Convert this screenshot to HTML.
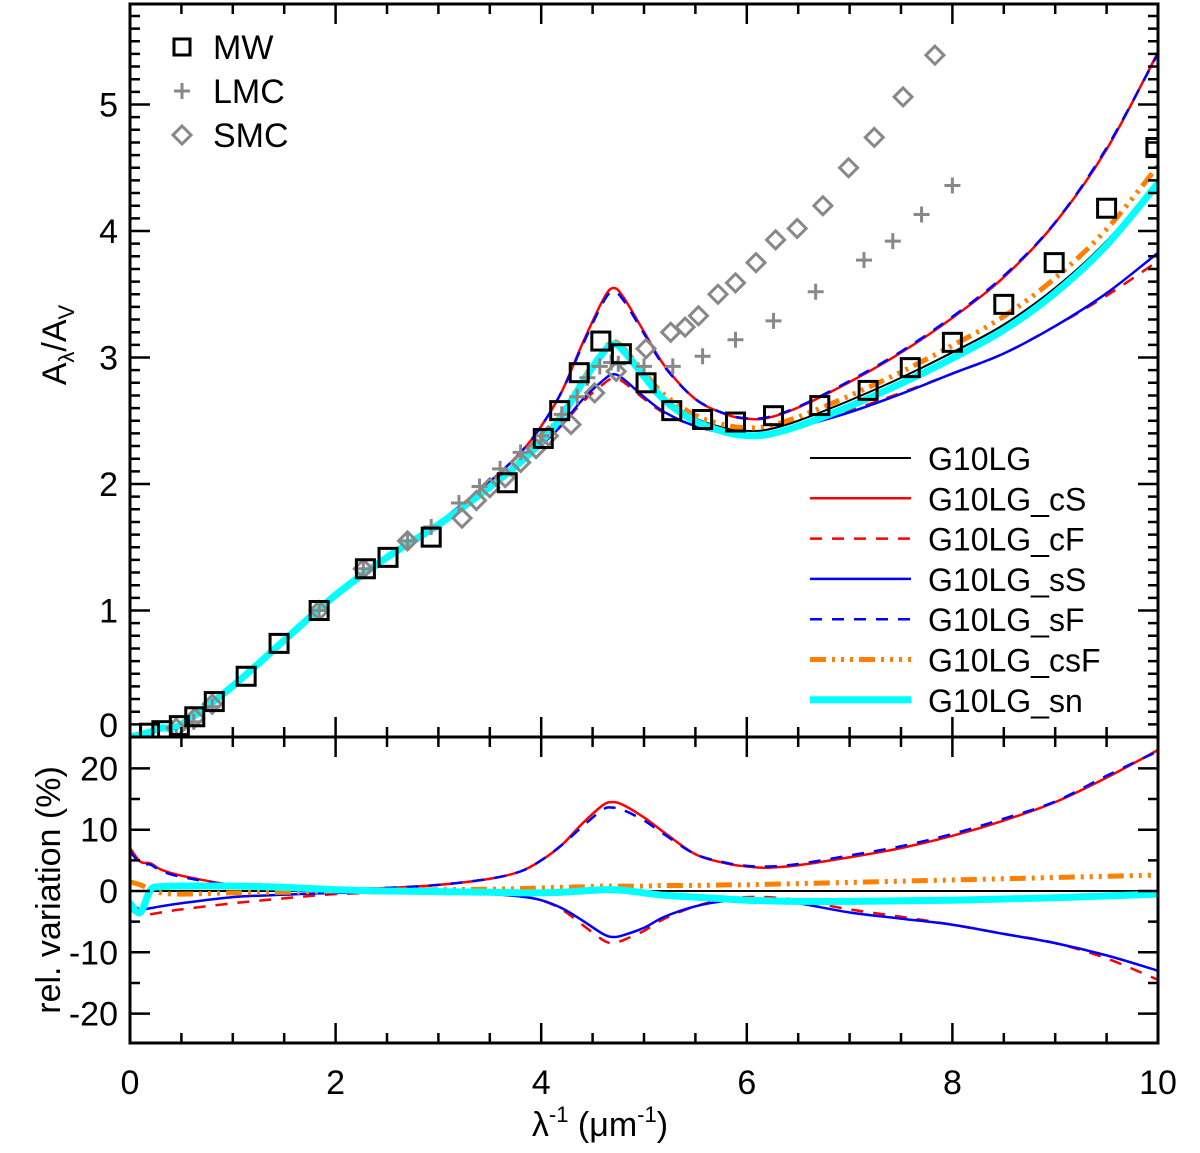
<!DOCTYPE html>
<html><head><meta charset="utf-8"><style>
body{margin:0;background:#fff}
svg text{font-family:"Liberation Sans",sans-serif;fill:#000}
</style></head><body>
<svg id="c" width="1200" height="1148" xmlns="http://www.w3.org/2000/svg"></svg>
<script>
const xs=[0,0.1,0.2,0.3,0.5,1,1.5,2,2.5,3,3.5,3.8,4,4.2,4.4,4.6,4.7,4.8,5,5.2,5.5,5.8,6,6.2,6.5,7,7.5,8,8.5,9,9.5,10];
const yBase=[0,0.02,0.04,0.07,0.1,0.4,0.76,1.12,1.42,1.68,1.98,2.18,2.34,2.54,2.8,3.03,3.1,3.05,2.86,2.68,2.52,2.44,2.42,2.43,2.5,2.66,2.84,3.04,3.26,3.55,3.92,4.4];
const relCS=[7,4.8,4.5,3.5,2.5,1,0.6,0.3,0.5,1,2,3.2,5,7.5,11,14,14.5,14,12,9.5,6,4.5,4,3.8,4.2,5.5,7,9,11.5,14.5,18.5,23];
const relSF=[6.5,4.5,4.3,3.3,2.3,0.9,0.5,0.3,0.5,1,2,3.2,5,7.5,10.5,13.3,13.6,13.2,11.5,9.2,6,4.6,4.1,4,4.4,5.8,7.3,9.3,11.8,14.6,18.8,22.8];
const relCF=[-3,-4,-3.8,-3.5,-3,-2,-1.2,-0.5,-0.3,-0.3,-0.5,-0.9,-1.5,-3,-5.5,-8,-8.5,-8,-6.5,-4.5,-2.5,-1.3,-1,-1,-1.5,-3,-4.2,-5.5,-7,-8.5,-11,-14.5];
const relSS=[-2,-3,-2.8,-2.5,-2,-1,-0.6,-0.3,-0.3,-0.3,-0.5,-0.9,-1.5,-2.8,-4.8,-7,-7.5,-7.2,-6,-4.2,-2.5,-1.6,-1.5,-1.6,-2,-3.5,-4.5,-5.5,-7,-8.5,-10.5,-13];
const relCSF=[1.5,1,0.3,-0.3,-0.5,-0.3,-0.2,0,0.1,0.2,0.3,0.4,0.5,0.6,0.7,0.8,0.8,0.8,0.8,0.9,0.9,1,1,1.1,1.2,1.4,1.6,1.8,2,2.2,2.4,2.6];
const relSN=[-2,-3.5,0.2,0.7,0.8,0.8,0.6,0.2,0,-0.1,-0.2,-0.3,-0.3,-0.2,0,0.2,0.2,0.1,-0.3,-0.7,-1,-1.3,-1.5,-1.6,-1.7,-1.7,-1.6,-1.5,-1.3,-1.1,-0.8,-0.5];
const mwX=[0.19,0.31,0.48,0.63,0.82,1.13,1.45,1.84,2.29,2.51,2.93,3.67,4.02,4.18,4.37,4.58,4.78,5.02,5.27,5.57,5.89,6.26,6.71,7.18,7.59,8.0,8.5,8.99,9.5,9.98];
const mwY=[0.03,0.05,0.09,0.16,0.28,0.48,0.74,1.0,1.33,1.42,1.58,2.01,2.36,2.58,2.88,3.13,3.03,2.80,2.58,2.51,2.49,2.54,2.62,2.74,2.92,3.12,3.42,3.75,4.18,4.66];
const lmcX=[0.45,0.62,0.8,1.84,2.27,2.7,2.93,3.2,3.4,3.6,3.8,4.0,4.2,4.35,4.45,4.57,4.68,4.75,5.0,5.28,5.57,5.89,6.26,6.67,7.14,7.42,7.7,8.0];
const lmcY=[0.0,0.12,0.24,1.0,1.33,1.55,1.66,1.85,1.98,2.12,2.25,2.38,2.55,2.69,2.84,2.93,2.96,2.95,2.93,2.93,3.01,3.14,3.29,3.52,3.77,3.92,4.13,4.36];
const smcX=[0.45,0.63,0.8,1.84,2.27,2.7,3.23,3.37,3.5,3.65,3.8,3.95,4.07,4.29,4.52,4.73,5.02,5.26,5.40,5.53,5.72,5.89,6.09,6.28,6.49,6.74,6.99,7.24,7.52,7.83];
const smcY=[0.07,0.15,0.26,1.0,1.33,1.55,1.73,1.87,1.97,2.05,2.17,2.28,2.38,2.47,2.72,2.89,3.07,3.20,3.24,3.33,3.50,3.59,3.75,3.93,4.02,4.20,4.50,4.74,5.06,5.39];
const xTicks=[0,2,4,6,8,10];
const yTicks=[0,1,2,3,4,5];
const rTicks=[20,10,0,-10,-20];

const NS="http://www.w3.org/2000/svg",svg=document.getElementById('c');
const L=130,R=1158,T=4,M=737,B=1043;
const X=v=>L+(R-L)*v/10;
const Y=v=>M-126.5*v;
const Yr=v=>891-6.13*v;
function el(t,a,p){const e=document.createElementNS(NS,t);for(const k in a)e.setAttribute(k,a[k]);(p||svg).appendChild(e);return e;}
function path(pts){let d="M"+pts[0][0]+","+pts[0][1];
 for(let i=0;i<pts.length-1;i++){const p0=pts[Math.max(0,i-1)],p1=pts[i],p2=pts[i+1],p3=pts[Math.min(pts.length-1,i+2)];
  d+=" C"+(p1[0]+(p2[0]-p0[0])/6)+","+(p1[1]+(p2[1]-p0[1])/6)+" "+(p2[0]-(p3[0]-p1[0])/6)+","+(p2[1]-(p3[1]-p1[1])/6)+" "+p2[0]+","+p2[1];}
 return d;}
const clipA=el('clipPath',{id:'ca'});el('rect',{x:L,y:T,width:R-L,height:M-T},clipA);
const clipB=el('clipPath',{id:'cb'});el('rect',{x:L,y:M,width:R-L,height:B-M},clipB);
const series=[
 {name:'g10lg',rel:null,c:'#000',w:2,d:''},
 {name:'g10lg-cs',rel:relCS,c:'#f00',w:2.5,d:''},
 {name:'g10lg-cf',rel:relCF,c:'#f00',w:2.5,d:'12,10'},
 {name:'g10lg-ss',rel:relSS,c:'#00f',w:2.5,d:''},
 {name:'g10lg-sf',rel:relSF,c:'#00f',w:2.5,d:'12,10'},
 {name:'g10lg-csf',rel:relCSF,c:'#ff7f00',w:5,d:'16,6,3,6,3,6,3,6'},
 {name:'g10lg-sn',rel:relSN,c:'#00ffff',w:7,d:''}];
const gA=el('g',{'clip-path':'url(#ca)'}),gB=el('g',{'clip-path':'url(#cb)'});
// markers first then lines? lines drawn under markers
series.forEach(s=>{
 const vals=yBase.map((v,i)=>s.rel?v*(1+s.rel[i]/100):v);
 const p=el('path',{d:path(xs.map((x,i)=>[X(x),Y(vals[i])])),fill:'none',stroke:s.c,'stroke-width':s.w,'stroke-dasharray':s.d},gA);
 
 
 const q=el('path',{d:path(xs.map((x,i)=>[X(x),Yr(s.rel?s.rel[i]:0)])),fill:'none',stroke:s.c,'stroke-width':s.w,'stroke-dasharray':s.d},gB);
 
 
});
const gM=el('g',{'clip-path':'url(#ca)'});
function sq(x,y,g){const e=el('rect',{x:x-9,y:y-9,width:18,height:18,fill:'none',stroke:'#000','stroke-width':3},g);return e;}
function plus(x,y,g){const e=el('path',{d:`M${x-8},${y}H${x+8}M${x},${y-8}V${y+8}`,stroke:'#888','stroke-width':3},g);return e;}
function dia(x,y,g){const e=el('path',{d:`M${x},${y-9}L${x+9},${y}L${x},${y+9}L${x-9},${y}Z`,fill:'none',stroke:'#888','stroke-width':3},g);return e;}
smcX.forEach((x,i)=>{const e=dia(X(x),Y(smcY[i]),gM);});
lmcX.forEach((x,i)=>{const e=plus(X(x),Y(lmcY[i]),gM);});
mwX.forEach((x,i)=>{const e=sq(X(x),Y(mwY[i]),gM);});
// frames
const fa=el('rect',{x:L,y:T,width:R-L,height:M-T,fill:'none',stroke:'#000','stroke-width':3});

const fb=el('rect',{x:L,y:M,width:R-L,height:B-M,fill:'none',stroke:'#000','stroke-width':3});

let tk="";
for(let i=0;i<=20;i++){const x=X(i*0.5),len=i%4==0?20:10;
 tk+=`M${x},${T}v${len}M${x},${M}v${-len}M${x},${M}v${len}M${x},${B}v${-len}`;}
for(let i=1;i<58;i++){const y=Y(i*0.1),len=i%10==0?20:10;tk+=`M${L},${y}h${len}M${R},${y}h${-len}`;}
for(let v=-25;v<=25;v+=5){const y=Yr(v),len=v%10==0?20:10;if(v==25||v==-25)continue;tk+=`M${L},${y}h${len}M${R},${y}h${-len}`;}
const te=el('path',{d:tk,stroke:'#000','stroke-width':2.5,fill:'none'});

function txt(s,x,y,a,fs,nm){const e=el('text',{x:x,y:y,'text-anchor':a||'middle','font-size':fs||34});e.textContent=s;return e;}
xTicks.forEach(v=>txt(String(v),X(v),1094,'middle',34,'x-tick-label'));
yTicks.forEach(v=>txt(String(v),118,(v==0?737:Y(v))+(v==0?0:12),'end',34,'y-tick-label'));
rTicks.forEach(v=>txt(String(v),118,Yr(v)+12,'end',34,'rel-tick-label'));
const xt=el('text',{x:600,y:1136,'text-anchor':'middle','font-size':34});xt.innerHTML='λ<tspan font-size="22" dy="-14">-1</tspan><tspan dy="14"> (μm</tspan><tspan font-size="22" dy="-14">-1</tspan><tspan dy="14">)</tspan>';

const yt=el('text',{x:0,y:0,'text-anchor':'middle','font-size':34,transform:'translate(66,345) rotate(-90)'});yt.innerHTML='A<tspan font-size="22" dy="8">λ</tspan><tspan dy="-8">/A</tspan><tspan font-size="22" dy="8">V</tspan>';

const rt=el('text',{x:0,y:0,'text-anchor':'middle','font-size':34,transform:'translate(60,890) rotate(-90)'});rt.textContent='rel. variation (%)';

// legends
const lm=[['MW',sq,47],['LMC',plus,91],['SMC',dia,135]];
lm.forEach(l=>{const m=l[1](182,l[2]);
 if(l[0]=='MW'){m.setAttribute('width',16);m.setAttribute('height',16);m.setAttribute('x',174);m.setAttribute('y',39);}
 txt(l[0],213,l[2]+12,'start',34,'legend-label');});
const labels=['G10LG','G10LG_cS','G10LG_cF','G10LG_sS','G10LG_sF','G10LG_csF','G10LG_sn'];
series.forEach((s,i)=>{const y=458+40.3*i;
 const ln=el('line',{x1:810,x2:911,y1:y,y2:y,stroke:s.c,'stroke-width':s.w,'stroke-dasharray':s.d});
 
 txt(labels[i],928,y+12,'start',32,'legend-label');});
</script>
</body></html>
